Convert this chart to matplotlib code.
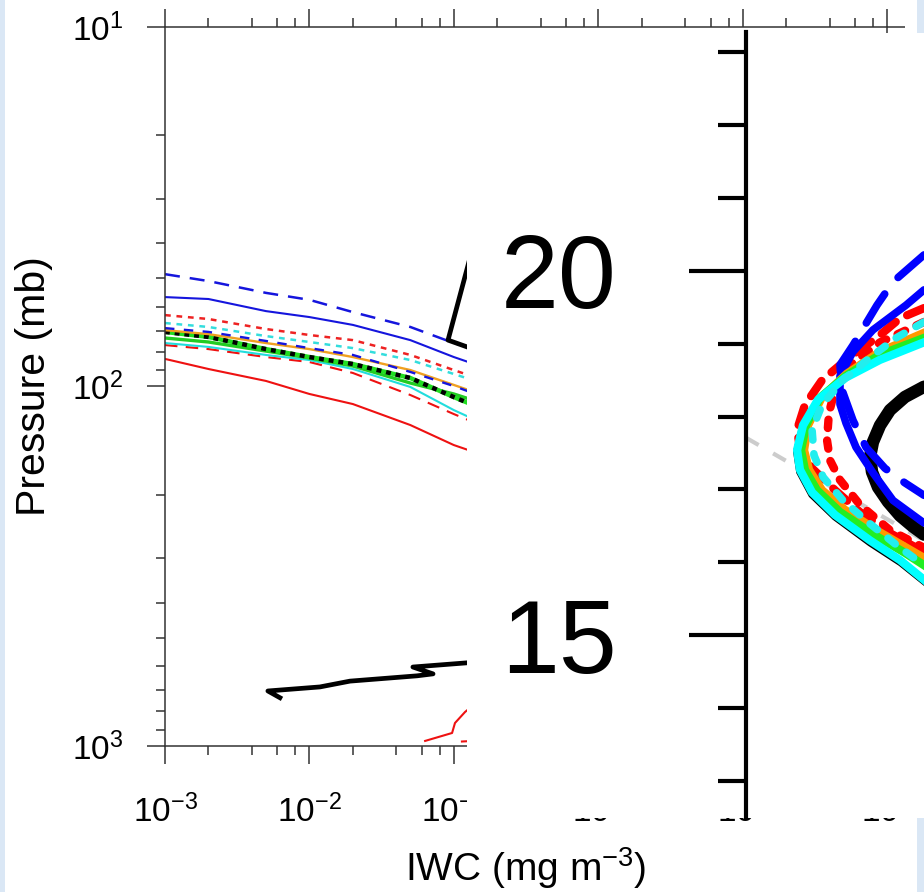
import numpy as np
import matplotlib
matplotlib.use('Agg')
import matplotlib.pyplot as plt
from matplotlib.patches import Rectangle
from matplotlib.ticker import MultipleLocator, FixedLocator, NullFormatter, LogLocator

plt.rcParams['font.family'] = ['Liberation Sans', 'DejaVu Sans']
plt.rcParams['mathtext.fontset'] = 'custom'
plt.rcParams['mathtext.rm'] = 'Liberation Sans'
plt.rcParams['mathtext.it'] = 'Liberation Sans:italic'
plt.rcParams['axes.unicode_minus'] = False

# ---- left panel: IWC (mg m-3) vs pressure (mb) ----
iwc = [1e-3, 2e-3, 5e-3, 1e-2, 2e-2, 5e-2, 1e-1, 2e-1]

p_blue_dash = [48.7, 50.9, 54.9, 57.4, 62.1, 68.3, 75.7, 81.7]
p_blue = [56.4, 57.1, 61.7, 64.1, 67.4, 74.3, 82.8, 91.1]
p_red_dot = [63.3, 64.9, 69.2, 71.9, 74.3, 81.7, 90.0, 99.0]
p_cyan_dot = [66.6, 68.3, 72.4, 75.2, 78.2, 84.4, 92.3, 101.0]
p_blue_dash2 = [68.8, 70.5, 74.7, 78.2, 81.7, 91.1, 99.7, 110.4]
p_orange = [69.7, 71.5, 75.7, 78.7, 82.8, 90.0, 99.0, 109.0]
p_black_dot = [70.5, 72.8, 78.7, 82.8, 86.6, 94.7, 107.0, 120.0]
p_green = [73.3, 75.2, 79.7, 83.3, 87.7, 97.8, 104.9, 114.8]
p_cyan = [75.7, 77.6, 81.7, 84.4, 89.4, 100.3, 116.3, 132.1]
p_red_dash = [76.7, 78.7, 82.8, 85.5, 91.7, 105.6, 119.3, 133.8]
p_red = [83.8, 89.4, 96.5, 104.9, 111.9, 128.0, 145.5, 160.1]

# observations (thick black)
obs1_iwc = [0.14, 0.0912, 0.14]
obs1_p = [39.0, 74.3, 79.0]
obs2_iwc = [0.00625, 0.00516, 0.01183, 0.0191, 0.0556, 0.0718, 0.0521, 0.1233, 0.178]
obs2_p = [734, 703, 685, 660, 638, 630, 603, 587, 577]
# lower red pieces
red_low_iwc = [0.0633, 0.0973, 0.1019, 0.1197, 0.151]
red_low_p = [968, 920, 863, 804, 745]
red_low2_iwc = [0.112, 0.2]
red_low2_p = [972, 960]

# ---- overlay panel: altitude (km) profiles ----
cyan_x = [1.0, 0.753, 0.556, 0.404, 0.320, 0.287, 0.303, 0.371, 0.500, 0.697, 0.865, 1.0]
cyan_z = [19.02, 18.78, 18.53, 18.23, 17.88, 17.54, 17.27, 16.96, 16.65, 16.30, 16.03, 15.76]
blackthin_x = [1.0, 0.745, 0.545, 0.392, 0.306, 0.272, 0.290, 0.360, 0.492, 0.692, 0.862, 1.0]
blackthin_z = [19.0, 18.76, 18.51, 18.21, 17.86, 17.52, 17.23, 16.91, 16.60, 16.24, 15.97, 15.70]
green_x = [1.0, 0.753, 0.562, 0.416, 0.337, 0.309, 0.331, 0.399, 0.528, 0.725, 0.893, 1.0]
green_z = [19.08, 18.85, 18.56, 18.26, 17.88, 17.54, 17.27, 16.99, 16.69, 16.37, 16.13, 15.96]
orange_x = [1.0, 0.753, 0.567, 0.427, 0.348, 0.326, 0.354, 0.427, 0.556, 0.753, 1.0]
orange_z = [19.15, 18.89, 18.59, 18.27, 17.88, 17.54, 17.27, 16.99, 16.72, 16.41, 16.06]
reddash_x = [1.0, 0.865, 0.753, 0.584, 0.427, 0.331, 0.287, 0.303, 0.371, 0.500, 0.640, 0.809, 1.0]
reddash_z = [19.49, 19.35, 19.12, 18.82, 18.50, 18.16, 17.82, 17.57, 17.29, 16.99, 16.69, 16.40, 16.14]
reddot_x = [1.0, 0.753, 0.584, 0.500, 0.466, 0.455, 0.472, 0.528, 0.640, 0.809, 1.0]
reddot_z = [19.30, 19.02, 18.71, 18.37, 18.05, 17.68, 17.40, 17.13, 16.79, 16.44, 16.20]
cyandash_x = [1.0, 0.843, 0.691, 0.545, 0.427, 0.371, 0.382, 0.433, 0.545, 0.691, 0.860, 1.0]
cyandash_z = [19.30, 19.08, 18.80, 18.50, 18.16, 17.82, 17.47, 17.17, 16.85, 16.54, 16.21, 15.96]
blue_x = [1.0, 0.899, 0.713, 0.601, 0.528, 0.528, 0.562, 0.618, 0.713, 0.826, 1.0]
blue_z = [19.74, 19.53, 19.19, 18.89, 18.56, 18.17, 17.91, 17.58, 17.23, 16.85, 16.54]
bluedash_x = [1.0, 0.826, 0.736, 0.601, 0.528, 0.539, 0.601, 0.674, 0.781, 0.893, 1.0]
bluedash_z = [20.22, 19.85, 19.53, 18.98, 18.71, 18.37, 17.95, 17.58, 17.29, 17.09, 16.92]
black_x = [1.0, 0.893, 0.809, 0.753, 0.713, 0.697, 0.708, 0.742, 0.798, 0.865, 0.938, 1.0]
black_z = [18.41, 18.27, 18.09, 17.88, 17.65, 17.45, 17.24, 17.03, 16.83, 16.64, 16.49, 16.38]
grey_x = [0.0, 1.0]
grey_z = [17.71, 16.30]

W, H = 924, 892
fig = plt.figure(figsize=(W / 100, H / 100), dpi=100)
fig.patch.set_facecolor('#dae7f5')

# white page behind the left chart
fig.add_artist(Rectangle((5 / W, 0), (917 - 5) / W, 1, transform=fig.transFigure,
                         facecolor='white', edgecolor='none', zorder=-1))

ax = fig.add_axes([165 / W, 1 - 746 / H, 722 / W, 719 / H])
ax.set_xscale('log')
ax.set_yscale('log')
ax.set_xlim(1e-3, 1e2)
ax.set_ylim(1000, 10)
ax.xaxis.set_minor_locator(LogLocator(base=10, subs=(2, 4, 6, 8)))
ax.xaxis.set_minor_formatter(NullFormatter())

lw = 1.5
ax.plot(iwc, p_red, color='#ee1111', lw=lw)
ax.plot(iwc, p_red_dash, color='#ee1111', lw=lw, dashes=(6, 4))
ax.plot(iwc, p_cyan, color='#22dddd', lw=lw)
ax.plot(iwc, p_green, color='#22cc22', lw=2.4)
ax.plot(iwc, p_black_dot, color='#22dd22', lw=3.2)
ax.plot(iwc, p_black_dot, color='black', lw=3.2, dashes=(1.1, 1.1))
ax.plot(iwc, p_orange, color='#f0a020', lw=lw + 0.2)
ax.plot(iwc, p_blue_dash2, color='#1515dd', lw=lw + 0.2, dashes=(4, 4))
ax.plot(iwc, p_cyan_dot, color='#33dddd', lw=lw + 0.3, dashes=(2.3, 2.3))
ax.plot(iwc, p_red_dot, color='#ee2222', lw=lw + 0.3, dashes=(2.3, 2.3))
ax.plot(iwc, p_blue, color='#1515dd', lw=lw)
ax.plot(iwc, p_blue_dash, color='#1515dd', lw=lw + 0.3, dashes=(6, 4))

ax.plot(red_low_iwc, red_low_p, color='#ee1111', lw=lw)
ax.plot(red_low2_iwc, red_low2_p, color='#ee1111', lw=lw, dashes=(6, 4))
ax.plot(obs1_iwc, obs1_p, color='black', lw=3.4)
ax.plot(obs2_iwc, obs2_p, color='black', lw=3.4)

for s in ax.spines.values():
    s.set_color('#333333')
    s.set_linewidth(1.1)
ax.tick_params(which='both', direction='out', top=True, right=True, colors='#333333',
               labelcolor='black', labelsize=24)
ax.tick_params(which='major', length=13, width=1.1)
ax.tick_params(which='minor', length=6.5, width=1.1)
ax.tick_params(axis='x', pad=22)
ax.tick_params(axis='y', pad=17)
ax.set_xlabel('IWC (mg m$^{-3}$)', fontsize=28)
ax.set_ylabel('Pressure (mb)', fontsize=29.5)
ax.xaxis.set_label_coords(0.5, -0.138)
ax.yaxis.set_label_coords(-0.155, 0.5)

# white overlay with the altitude panel
fig.add_artist(Rectangle((467 / W, 1 - 818 / H), (W - 467) / W, (818 - 33) / H,
                         transform=fig.transFigure, facecolor='white',
                         edgecolor='none', zorder=1))

ax2 = fig.add_axes([746 / W, 1 - 818 / H, (W - 746) / W, (818 - 32) / H])
ax2.set_zorder(2)
ax2.patch.set_visible(False)
ax2.set_xlim(0, 1)
ax2.set_ylim(12.49, 23.28)

ax2.plot(grey_x, grey_z, color='#cccccc', lw=3, dashes=(3.5, 4), clip_on=False)
ax2.plot(blackthin_x, blackthin_z, color='black', lw=2)
ax2.plot(black_x, black_z, color='black', lw=9, solid_capstyle='round', solid_joinstyle='round')
ax2.plot(reddash_x, reddash_z, color='red', lw=6, dashes=(2.2, 1.6), dash_capstyle='round')
ax2.plot(reddot_x, reddot_z, color='red', lw=6, dashes=(1.0, 1.5), dash_capstyle='round')
ax2.plot(bluedash_x, bluedash_z, color='blue', lw=5.5, dashes=(4.5, 2.8), dash_capstyle='round')
ax2.plot(blue_x, blue_z, color='blue', lw=5.5, solid_capstyle='round')
ax2.plot(orange_x, orange_z, color='#ff9900', lw=6)
ax2.plot(green_x, green_z, color='#22ee22', lw=6)
ax2.plot(cyan_x, cyan_z, color='#00ffff', lw=6)
ax2.plot(cyandash_x, cyandash_z, color='#22eeee', lw=5.5, dashes=(1.2, 1.8), dash_capstyle='round')

for side in ['top', 'right', 'bottom']:
    ax2.spines[side].set_visible(False)
ax2.spines['left'].set_linewidth(3)
ax2.xaxis.set_visible(False)
ax2.yaxis.set_major_locator(FixedLocator([15, 20]))
ax2.yaxis.set_minor_locator(MultipleLocator(1))
ax2.yaxis.set_minor_formatter(NullFormatter())
ax2.tick_params(axis='y', which='major', direction='out', length=41, width=3,
                pad=52, labelsize=75)
ax2.tick_params(axis='y', which='minor', direction='out', length=20, width=3)

plt.savefig('out.png', dpi=100)
